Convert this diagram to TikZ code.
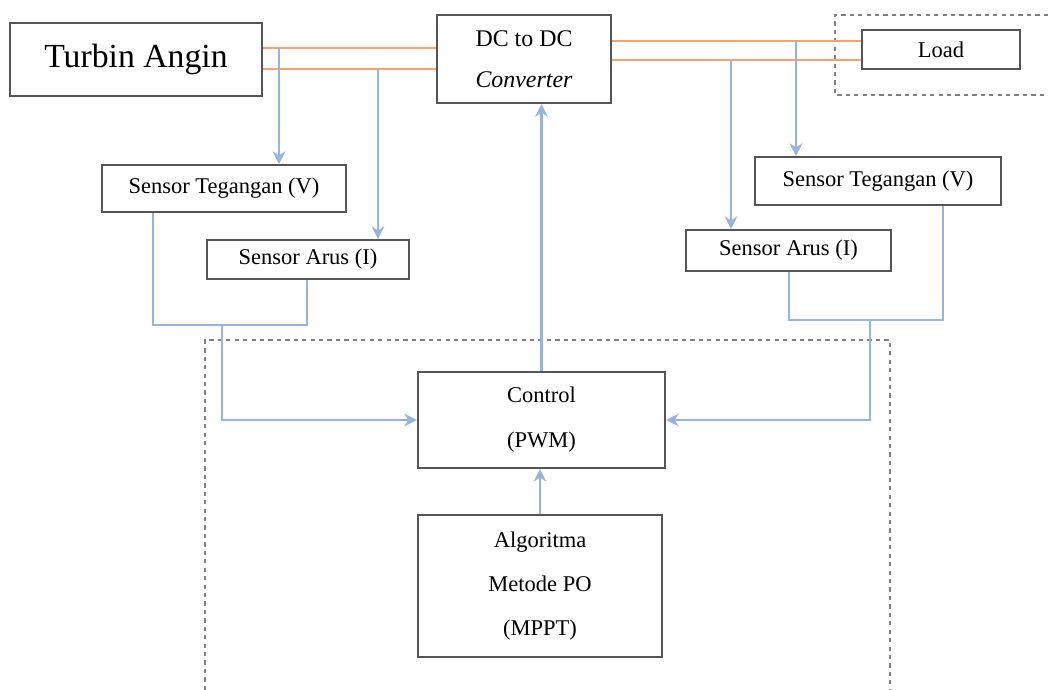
\documentclass[tikz,border=0pt]{standalone}
\usepackage{fontspec}
\setmainfont{Liberation Serif}
\usetikzlibrary{arrows.meta}

\definecolor{pwrline}{RGB}{240,165,115}
\definecolor{sigline}{RGB}{150,180,220}
\definecolor{boxline}{RGB}{85,85,85}

\begin{document}
\begin{tikzpicture}[x=0.025cm,y=-0.025cm,
    blok/.style={draw=boxline,line width=1.4pt,fill=white,inner sep=0pt,
        align=center,font=\fontsize{16}{30}\selectfont},
    frame/.style={draw=gray,line width=1.4pt,dashed},
    pwr/.style={draw=pwrline,line width=1.2pt},
    sig/.style={draw=sigline,line width=1.5pt},
    sigarr/.style={sig,-{Stealth[length=9pt,width=9pt]}}]

\useasboundingbox (0,0) rectangle (1048,690);

% dashed frames
\draw[frame] (1048,15) -- (835,15) -- (835,95) -- (1048,95);
\draw[frame] (205,690) -- (205,340) -- (890,340) -- (890,690);

% blocks
\node[blok,minimum width=6.3cm,minimum height=1.825cm,
    font=\fontsize{24}{28}\selectfont] (turbin) at (136,59.5) {Turbin Angin};
\node[blok,minimum width=4.35cm,minimum height=2.2cm,
    font=\fontsize{17}{29}\selectfont] (dc) at (524,59) {DC to DC\\\textit{Converter}};
\node[blok,minimum width=3.95cm,minimum height=0.975cm] (load) at (941,49.5) {Load};

\node[blok,minimum width=6.1cm,minimum height=1.175cm] (sTegL) at (224,188.5) {Sensor Tegangan (V)};
\node[blok,minimum width=5.05cm,minimum height=0.975cm] (sArusL) at (308,259.5) {Sensor Arus (I)};
\node[blok,minimum width=6.15cm,minimum height=1.2cm] (sTegR) at (878,181) {Sensor Tegangan (V)};
\node[blok,minimum width=5.125cm,minimum height=1.025cm] (sArusR) at (788.5,250.5) {Sensor Arus (I)};

\node[blok,minimum width=6.175cm,minimum height=2.4cm,
    font=\fontsize{16}{32}\selectfont] (control) at (541.5,420) {Control\\(PWM)};
\node[blok,minimum width=6.1cm,minimum height=3.55cm,
    font=\fontsize{16}{31}\selectfont] (algo) at (540,586) {Algoritma\\Metode PO\\(MPPT)};

% power lines
\draw[pwr] (turbin.east |- 0,48) -- (dc.west |- 0,48);
\draw[pwr] (turbin.east |- 0,69) -- (dc.west |- 0,69);
\draw[pwr] (dc.east |- 0,41) -- (load.west |- 0,41);
\draw[pwr] (dc.east |- 0,60) -- (load.west |- 0,60);

% sensor taps
\coordinate (tapVL) at (279,48);
\coordinate (tapIL) at (378,69);
\coordinate (tapIR) at (731,60);
\coordinate (tapVR) at (796,41);
\draw[sigarr] (tapVL) -- (tapVL |- sTegL.north);
\draw[sigarr] (tapIL) -- (tapIL |- sArusL.north);
\draw[sigarr] (tapIR) -- (tapIR |- sArusR.north);
\draw[sigarr] (tapVR) -- (tapVR |- sTegR.north);

% feedback to control
\coordinate (jL) at (222,325);
\coordinate (jR) at (870,320);
\draw[sig] (sTegL.south -| 153,0) |- (jL) -| (sArusL.south -| 307,0);
\draw[sig] (sArusR.south -| 789,0) |- (jR) -| (sTegR.south -| 943,0);
\draw[sigarr] (jL) |- (control.west);
\draw[sigarr] (jR) |- (control.east);

\draw[sigarr] (control.north) -- (control.north |- dc.south);
\draw[sigarr] (algo.north) -- (algo.north |- control.south);

\end{tikzpicture}
\end{document}
